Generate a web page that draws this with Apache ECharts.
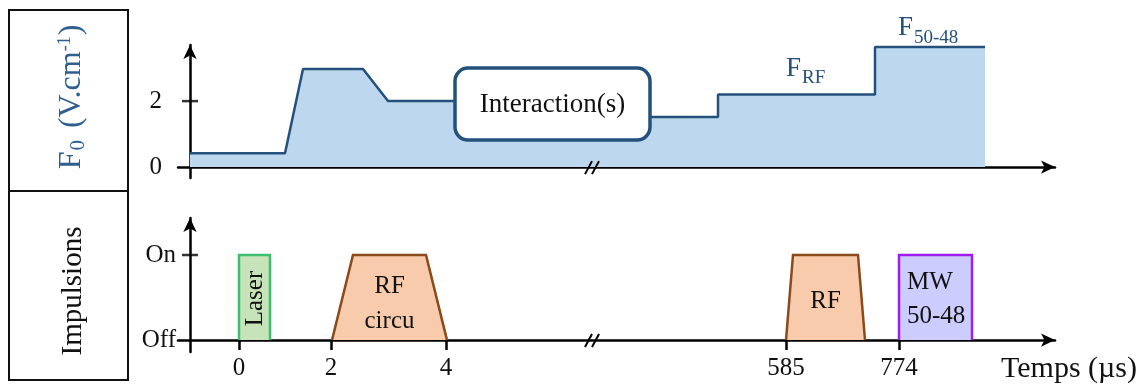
<!DOCTYPE html>
<html><head><meta charset="utf-8">
<script src="https://cdn.jsdelivr.net/npm/echarts@6/dist/echarts.min.js"></script>
<style>html,body{margin:0;padding:0;background:#fff}#c{width:1145px;height:384px}</style>
</head><body><div id="c"></div>
<script>
// Schematic (broken) time axis: positions along the drawn axis
const fieldX = [0, 95, 113, 173, 198, 420, 440, 528, 528, 685, 685, 795];
const fieldY = [0.42, 0.42, 2.97, 2.97, 2.0, 2.0, 1.52, 1.52, 2.2, 2.2, 3.64, 3.64];
const fieldTicks = [0, 2];
const fieldTickLabels = ['0', '2'];

const pulseNames = ['Laser', 'RF\ncircu', 'RF', 'MW\n50-48'];
const pulseStart = [49, 142, 596, 709];
const pulseEnd = [80, 257, 675, 782];
const pulseRamp = [0, 21, 7, 0];
const pulseLevels = [0, 1];
const pulseLevelLabels = ['Off', 'On'];

const timeTickPos = [49, 141, 256, 596, 709];
const timeTickLabels = ['0', '2', '4', '585', '774'];
const breakPos = [402];

const interactionBox = [[265, 460, 3.0, 0.82]];

const FONT = 'Liberation Serif';
const BLUE = '#24507c';
const pulseFill = ['#c6e3b9', '#f8cbad', '#f8cbad', '#ccccff'];
const pulseStroke = ['#3cbf6e', '#8a4a1c', '#8a4a1c', '#9f1cf5'];

const chart = echarts.init(document.getElementById('c'));

function axisLineStyle() {
  return { show: true, onZero: true, symbol: ['none', 'arrow'], symbolSize: [10, 14],
    lineStyle: { color: '#000', width: 2.5 } };
}

const option = {
  animation: false,
  grid: [
    { left: 178, top: 45, width: 877, height: 133 },
    { left: 178, top: 218, width: 877, height: 134 }
  ],
  xAxis: [
    { gridIndex: 0, type: 'value', min: -12, max: 865, axisLine: axisLineStyle(),
      axisTick: { show: false }, axisLabel: { show: false }, splitLine: { show: false } },
    { gridIndex: 1, type: 'value', min: -12, max: 865, axisLine: axisLineStyle(),
      axisTick: { show: true, customValues: timeTickPos, length: 10, inside: false, lineStyle: { color: '#000', width: 2.5 } },
      axisLabel: { show: true, customValues: timeTickPos, margin: 4, color: '#111', fontFamily: FONT, fontSize: 25,
        formatter: v => timeTickLabels[timeTickPos.indexOf(v)] },
      splitLine: { show: false } }
  ],
  yAxis: [
    { gridIndex: 0, type: 'value', min: -0.33, max: 3.7, axisLine: axisLineStyle(),
      axisTick: { show: false },
      axisLabel: { show: true, customValues: fieldTicks, margin: 16, color: '#111', fontFamily: FONT, fontSize: 25,
        formatter: v => fieldTickLabels[fieldTicks.indexOf(v)] },
      splitLine: { show: false } },
    { gridIndex: 1, type: 'value', min: -0.14, max: 1.435, axisLine: axisLineStyle(),
      axisTick: { show: false },
      axisLabel: { show: true, customValues: pulseLevels, margin: 2, color: '#111', fontFamily: FONT, fontSize: 25,
        formatter: v => pulseLevelLabels[pulseLevels.indexOf(v)] },
      splitLine: { show: false } }
  ],
  series: [
    { type: 'line', xAxisIndex: 0, yAxisIndex: 0, z: 1,
      data: fieldX.map((x, i) => [x, fieldY[i]]), symbol: 'none',
      lineStyle: { color: BLUE, width: 2.5 }, areaStyle: { color: '#bdd7ee', opacity: 1 } },
    { type: 'custom', xAxisIndex: 0, yAxisIndex: 0, z: 5,
      data: interactionBox,
      renderItem(params, api) {
        const p0 = api.coord([api.value(0), api.value(2)]);
        const p1 = api.coord([api.value(1), api.value(3)]);
        return { type: 'group', children: [
          { type: 'rect', shape: { x: p0[0], y: p0[1], width: p1[0] - p0[0], height: p1[1] - p0[1], r: 13 },
            style: { fill: '#fff', stroke: BLUE, lineWidth: 3.5 } },
          { type: 'text', x: (p0[0] + p1[0]) / 2, y: (p0[1] + p1[1]) / 2 + 1,
            style: { text: 'Interaction(s)', fill: '#111', font: '27px ' + FONT, align: 'center', verticalAlign: 'middle' } }
        ]};
      } },
    { type: 'custom', xAxisIndex: 1, yAxisIndex: 1, z: 1,
      data: pulseStart.map((s, i) => [s, pulseEnd[i], pulseRamp[i], i]),
      renderItem(params, api) {
        const s = api.value(0), e = api.value(1), r = api.value(2), i = api.value(3);
        const p0 = api.coord([s, 0]), p1 = api.coord([s + r, 1]), p2 = api.coord([e - r, 1]), p3 = api.coord([e, 0]);
        const cx = (p0[0] + p3[0]) / 2, cy = (p0[1] + p1[1]) / 2;
        let text;
        if (i === 0) {
          text = { type: 'text', x: cx + 1, y: cy + 1, rotation: Math.PI / 2,
            style: { text: pulseNames[i], fill: '#111', font: '25px ' + FONT, align: 'center', verticalAlign: 'middle' } };
        } else if (i === 3) {
          text = { type: 'text', x: p0[0] + 8, y: cy + 2,
            style: { text: pulseNames[i], fill: '#111', font: '25px ' + FONT, lineHeight: 34, align: 'left', verticalAlign: 'middle' } };
        } else {
          text = { type: 'text', x: cx, y: cy + (i === 1 ? 6 : 4),
            style: { text: pulseNames[i], fill: '#111', font: '25px ' + FONT, lineHeight: 35, align: 'center', verticalAlign: 'middle' } };
        }
        return { type: 'group', children: [
          { type: 'polygon', shape: { points: [p0, p1, p2, p3] }, style: { fill: pulseFill[i], stroke: null } },
          { type: 'polyline', shape: { points: [p0, p1, p2, p3] }, style: { fill: null, stroke: pulseStroke[i], lineWidth: 2.5 } },
          text
        ]};
      } },
    { type: 'scatter', xAxisIndex: 0, yAxisIndex: 0, z: 3, symbol: 'rect', symbolSize: [16, 2.5],
      data: [[0, fieldTicks[1]]], itemStyle: { color: '#000' }, silent: true },
    { type: 'scatter', xAxisIndex: 1, yAxisIndex: 1, z: 3, symbol: 'rect', symbolSize: [16, 2.5],
      data: [[0, pulseLevels[1]]], itemStyle: { color: '#000' }, silent: true },
    ...[0, 1].map(g => ({
      type: 'custom', xAxisIndex: g, yAxisIndex: g, z: 6,
      data: breakPos.map(b => [b, 0]),
      renderItem(params, api) {
        const p = api.coord([api.value(0), api.value(1)]);
        const mk = dx => ({ type: 'line', shape: { x1: p[0] + dx - 4, y1: p[1] + 7, x2: p[0] + dx + 3, y2: p[1] - 6 },
          style: { stroke: '#000', lineWidth: 2 } });
        return { type: 'group', children: [mk(-3), mk(4)] };
      } }))
  ],
  graphic: [
    { type: 'rect', shape: { x: 9, y: 10, width: 119, height: 370 }, style: { fill: null, stroke: '#111', lineWidth: 2 } },
    { type: 'line', shape: { x1: 9, y1: 191, x2: 128, y2: 191 }, style: { stroke: '#111', lineWidth: 2 } },
    { type: 'text', x: 72, y: 97, rotation: Math.PI / 2,
      style: { text: '{m|F}{sub|0}{m| (V.cm}{sup|-1}{m|)}', fill: '#2e5f8f', align: 'center', verticalAlign: 'middle',
        rich: {
          m: { fontFamily: FONT, fontSize: 32, fill: '#2e5f8f', lineHeight: 38, verticalAlign: 'middle' },
          sub: { fontFamily: FONT, fontSize: 21, fill: '#2e5f8f', lineHeight: 38, verticalAlign: 'bottom', padding: [0, 4, 2, 1] },
          sup: { fontFamily: FONT, fontSize: 18, fill: '#2e5f8f', lineHeight: 38, verticalAlign: 'top', padding: [3, 1, 0, 0] }
        } } },
    { type: 'text', x: 73, y: 291, rotation: Math.PI / 2,
      style: { text: 'Impulsions', fill: '#111', font: '29px ' + FONT, align: 'center', verticalAlign: 'middle' } },
    { type: 'text', x: 786, y: 82, style: { text: 'F', fill: BLUE, font: '27px ' + FONT, verticalAlign: 'bottom' } },
    { type: 'text', x: 802, y: 88, style: { text: 'RF', fill: BLUE, font: '19px ' + FONT, verticalAlign: 'bottom' } },
    { type: 'text', x: 898, y: 41, style: { text: 'F', fill: BLUE, font: '27px ' + FONT, verticalAlign: 'bottom' } },
    { type: 'text', x: 914, y: 48, style: { text: '50-48', fill: BLUE, font: '19px ' + FONT, verticalAlign: 'bottom' } },
    { type: 'text', x: 1137, y: 369, style: { text: 'Temps (µs)', fill: '#111', font: '30px ' + FONT, align: 'right', verticalAlign: 'middle' } }
  ]
};
chart.setOption(option);
</script>
</body></html>
